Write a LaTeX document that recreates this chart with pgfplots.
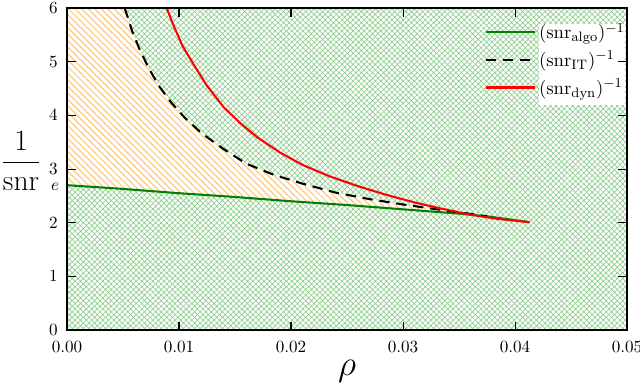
\documentclass[border=0pt]{standalone}
\usepackage{pgfplots}
\pgfplotsset{compat=1.18}
\usetikzlibrary{patterns.meta}
\definecolor{hgreen}{RGB}{140,205,140}
\definecolor{horange}{RGB}{255,195,110}
\definecolor{lgreen}{RGB}{0,128,0}
\begin{document}
\begin{tikzpicture}
\begin{axis}[
  scale only axis, width=327.6pt, height=188.4pt,
  xmin=0, xmax=0.05, ymin=0, ymax=6,
  xtick={0,0.01,0.02,0.03,0.04,0.05},
  xticklabels={0.00,0.01,0.02,0.03,0.04,0.05},
  scaled x ticks=false,
  ytick={0,1,2,3,4,5,6},
  xticklabel style={yshift=-3pt},
  yticklabel style={xshift=-2pt},
  tick align=inside, major tick length=5pt,
  axis line style={line width=1.1pt},
  every tick/.style={black, line width=0.6pt},
  axis on top,
  legend style={at={(1.012,0.975)}, anchor=north east, draw=none, fill=none, row sep=1.5pt, font=\fontsize{11}{13.5}\selectfont},
  legend cell align=left,
  legend image code/.code={\draw[#1] (0cm,0cm) -- (1cm,0cm);},
]
% full green crosshatch background
\addplot[forget plot, draw=none, pattern={Hatch[angle=45, distance=2.3pt, line width=0.4pt]}, pattern color=hgreen]
  coordinates {(0,0) (0.05,0) (0.05,6) (0,6)};
% orange region (white base)
\addplot[forget plot, draw=none, fill=white] coordinates {
 (0,2.70) (0,6.00) (0.00515,6.00) (0.0058,5.58) (0.0065,5.22) (0.0073,4.88) (0.0082,4.55)
 (0.0093,4.24) (0.0105,3.96) (0.0120,3.67) (0.0140,3.37) (0.0160,3.10) (0.0185,2.89)
 (0.0210,2.73) (0.0240,2.56) (0.0270,2.44) (0.0300,2.34) (0.0330,2.25) (0.0355,2.18) (0.0375,2.12)
 (0.035,2.17) (0.030,2.25) (0.025,2.33) (0.020,2.40) (0.015,2.48) (0.010,2.55) (0.005,2.63) (0,2.70)};
\addplot[forget plot, draw=none, pattern={Lines[angle=-45, distance=2.7pt, line width=0.6pt]}, pattern color=horange] coordinates {
 (0,2.70) (0,6.00) (0.00515,6.00) (0.0058,5.58) (0.0065,5.22) (0.0073,4.88) (0.0082,4.55)
 (0.0093,4.24) (0.0105,3.96) (0.0120,3.67) (0.0140,3.37) (0.0160,3.10) (0.0185,2.89)
 (0.0210,2.73) (0.0240,2.56) (0.0270,2.44) (0.0300,2.34) (0.0330,2.25) (0.0355,2.18) (0.0375,2.12)
 (0.035,2.17) (0.030,2.25) (0.025,2.33) (0.020,2.40) (0.015,2.48) (0.010,2.55) (0.005,2.63) (0,2.70)};
% white box behind legend text
\fill[white] (rel axis cs:0.843,0.70) rectangle (rel axis cs:0.996,0.95);
% algo
\addplot[lgreen, line width=1.2pt] coordinates {
 (0,2.70) (0.005,2.63) (0.010,2.55) (0.015,2.48) (0.020,2.40) (0.025,2.33)
 (0.030,2.25) (0.035,2.17) (0.0375,2.12) (0.0413,2.01)};
\addlegendentry{$(\mathrm{snr}_{\mathrm{algo}})^{-1}$}
% IT
\addplot[black, line width=1.2pt, dash pattern=on 6pt off 4pt] coordinates {
 (0.00515,6.00) (0.0058,5.58) (0.0065,5.22) (0.0073,4.88) (0.0082,4.55)
 (0.0093,4.24) (0.0105,3.96) (0.0120,3.67) (0.0140,3.37) (0.0160,3.10) (0.0185,2.89)
 (0.0210,2.73) (0.0240,2.56) (0.0270,2.44) (0.0300,2.34) (0.0330,2.25) (0.0355,2.18) (0.0375,2.12)};
\addlegendentry{$(\mathrm{snr}_{\mathrm{IT}})^{-1}$}
% dyn
\addplot[red, line width=1.2pt] coordinates {
 (0.0089,6.00) (0.0095,5.68) (0.0103,5.30) (0.0113,4.95) (0.0125,4.55) (0.0140,4.15)
 (0.0155,3.85) (0.0170,3.59) (0.0190,3.31) (0.0210,3.08) (0.0235,2.86) (0.0260,2.68)
 (0.0285,2.52) (0.0310,2.38) (0.0335,2.26) (0.0360,2.15) (0.0385,2.07) (0.0413,2.01)};
\addlegendentry{$(\mathrm{snr}_{\mathrm{dyn}})^{-1}$}
\end{axis}
\node[font=\LARGE, anchor=base] at ([shift={(-26.9pt,93.6pt)}]current axis.south west) {$\displaystyle\frac{1}{\mathrm{snr}}$};
\node[anchor=base, inner sep=0pt] at ([shift={(-7.0pt,81.5pt)}]current axis.south west) {$e$};
\node[font=\huge, anchor=base, inner sep=0pt] at ([shift={(163.8pt,-26.3pt)}]current axis.south west) {$\rho$};
\pgfresetboundingbox
\useasboundingbox ([shift={(-39.2pt,-31.6pt)}]current axis.south west) rectangle ([shift={(7.6pt,4.7pt)}]current axis.north east);
\end{tikzpicture}
\end{document}
